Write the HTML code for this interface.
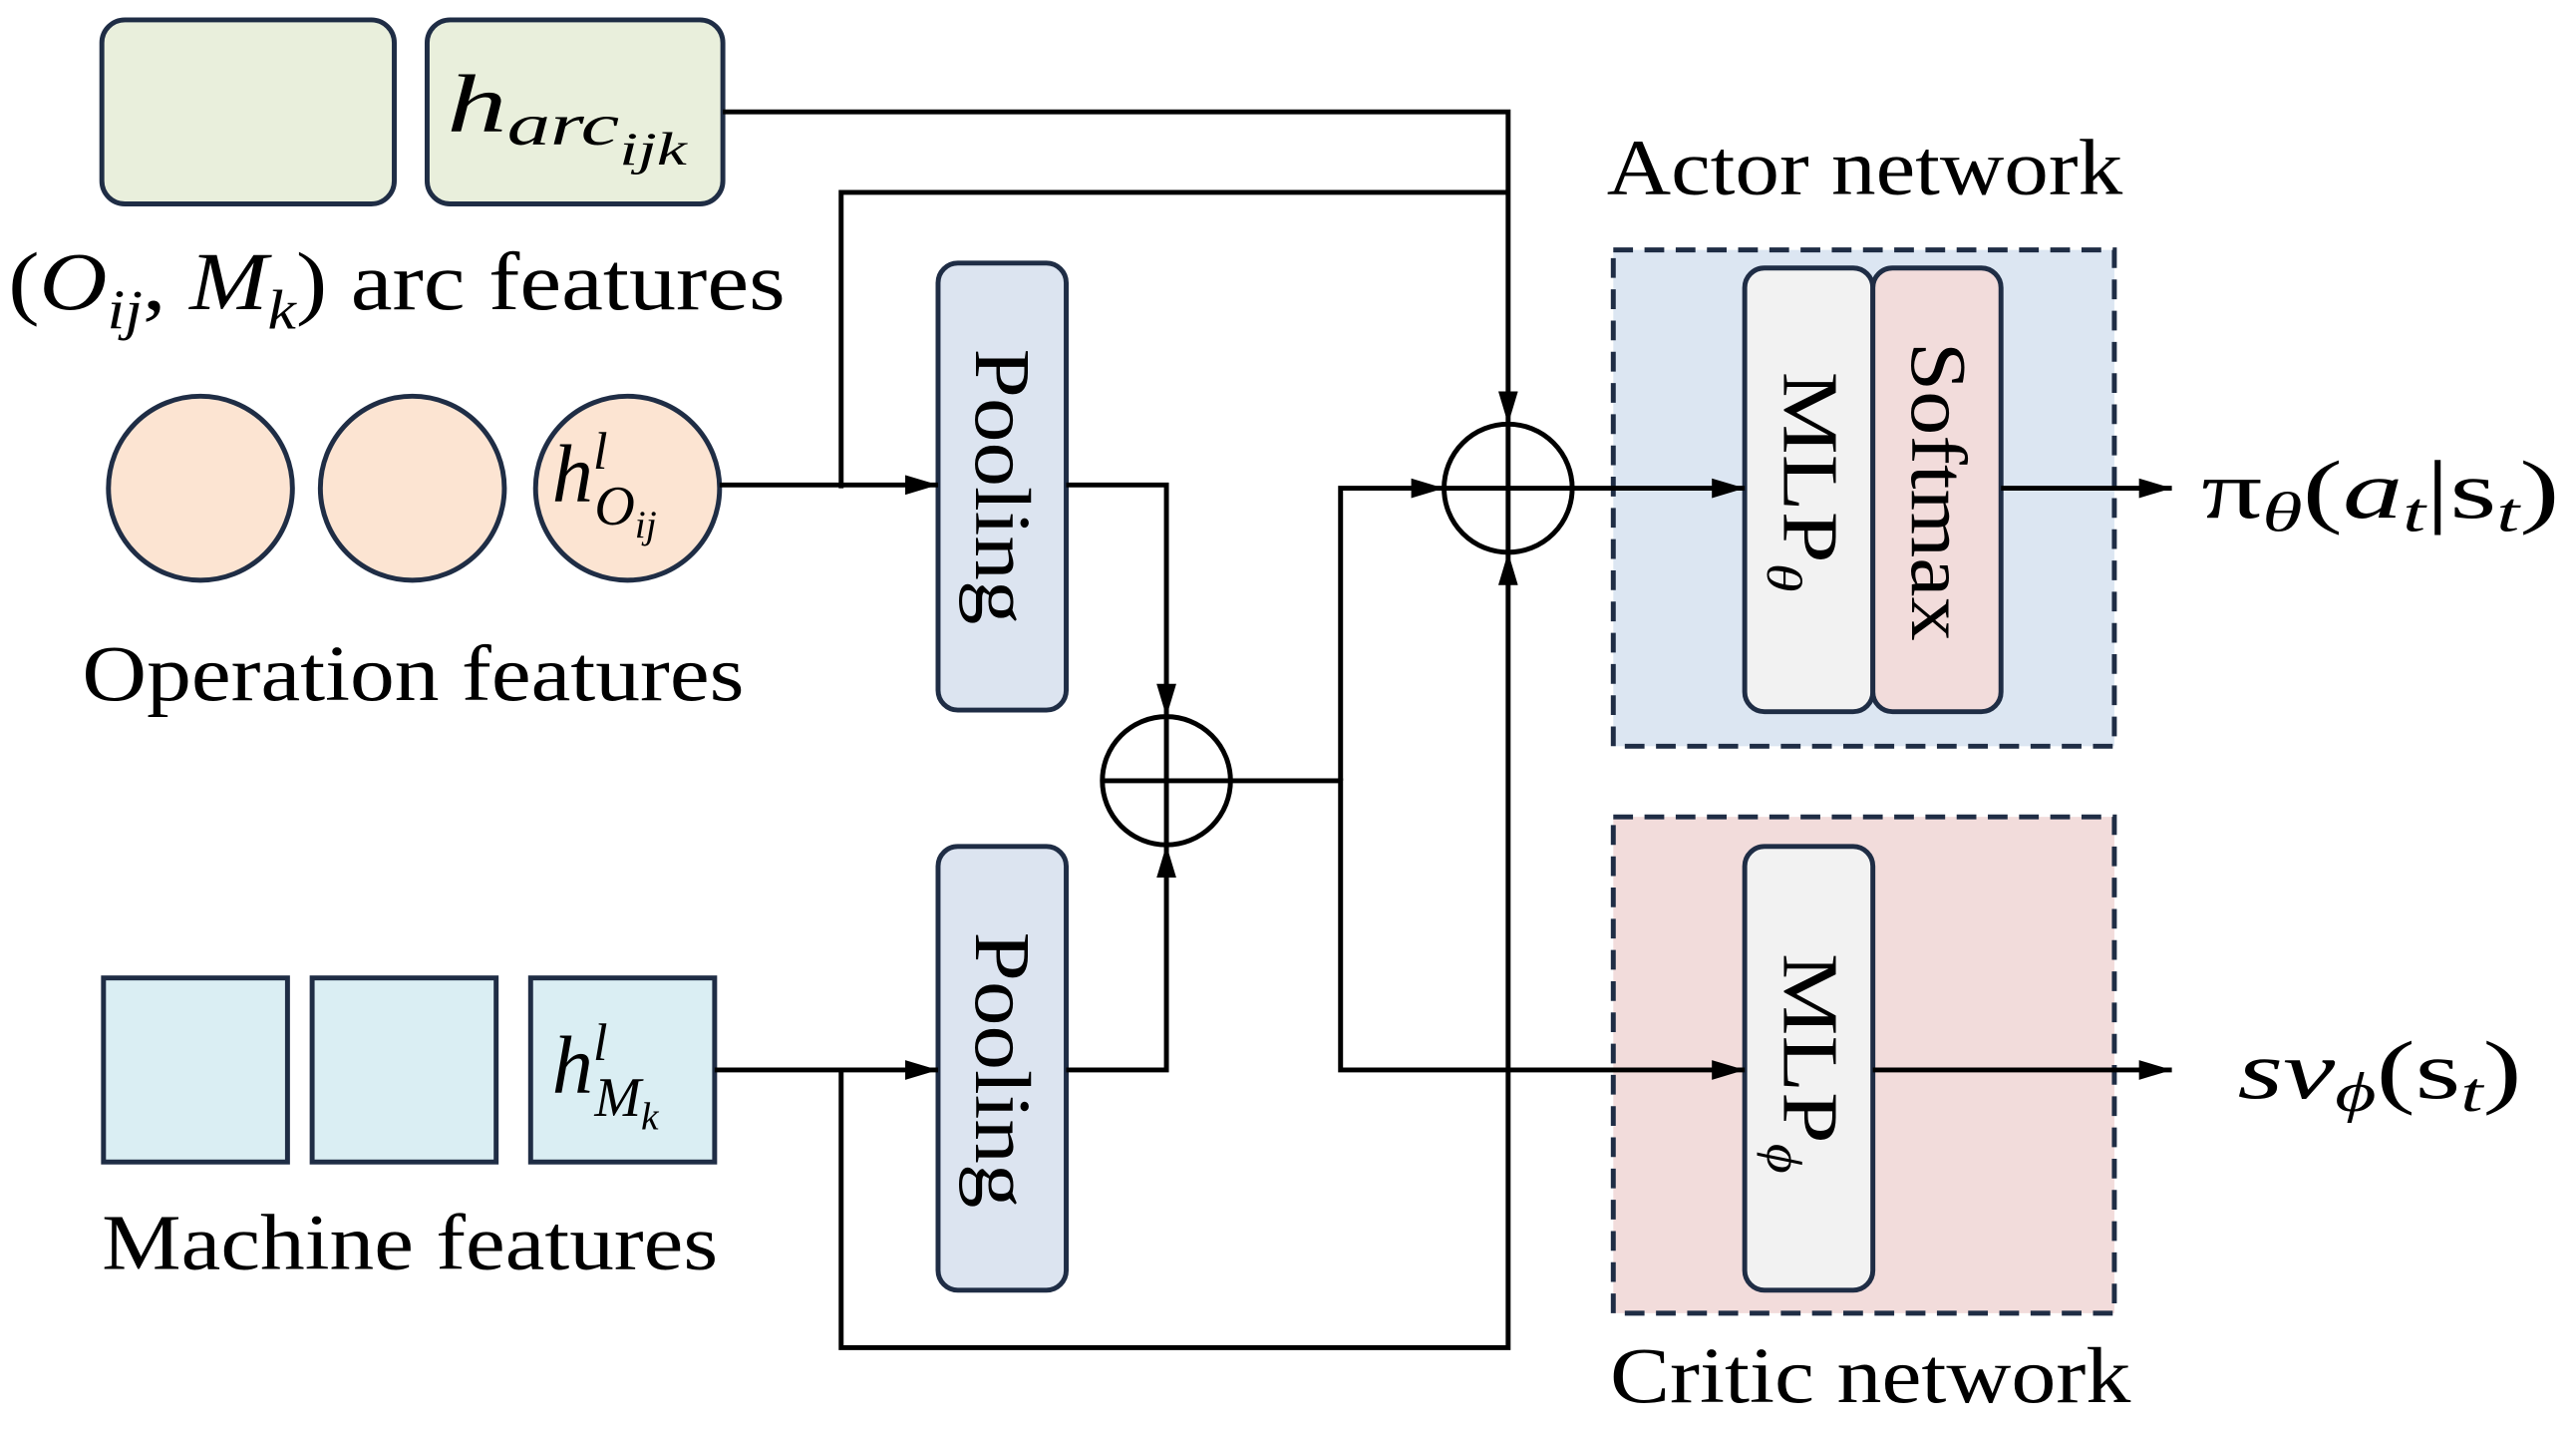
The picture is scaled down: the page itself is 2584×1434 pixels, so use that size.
<!DOCTYPE html>
<html><head><meta charset="utf-8"><style>
html,body{margin:0;padding:0;background:#fff;}
svg{display:block;}
text{font-family:"Liberation Serif",serif;fill:#000;}
</style></head><body>
<svg width="2584" height="1434" viewBox="0 0 1568 870" xmlns="http://www.w3.org/2000/svg">
<defs>
<marker id="b" markerWidth="20" markerHeight="12" refX="20" refY="6" orient="auto" markerUnits="userSpaceOnUse" viewBox="0 0 20 12"><path d="M0,0 L20,6 L0,12 Z" fill="#000"/></marker></defs>
<g stroke="#1f2d45" stroke-width="3">
<rect x="62" y="12" width="178" height="112" rx="14" fill="#e9efdc"/>
<rect x="260" y="12" width="180" height="112" rx="14" fill="#e9efdc"/>
<circle cx="122" cy="297" r="56" fill="#fce4d2"/>
<circle cx="251" cy="297" r="56" fill="#fce4d2"/>
<circle cx="382" cy="297" r="56" fill="#fce4d2"/>
<rect x="63" y="595" width="112" height="112" fill="#daeef3"/>
<rect x="190" y="595" width="112" height="112" fill="#daeef3"/>
<rect x="323" y="595" width="112" height="112" fill="#daeef3"/>
<rect x="571" y="160" width="78" height="272" rx="12" fill="#dce4f0"/>
<rect x="571" y="515" width="78" height="270" rx="12" fill="#dce4f0"/>
<rect x="982" y="152" width="305" height="302" fill="#dce6f2" stroke-dasharray="12,7"/>
<rect x="982" y="497" width="305" height="302" fill="#f2dcdb" stroke-dasharray="12,7"/>
<rect x="1062" y="163" width="78" height="270" rx="12" fill="#f2f2f2"/>
<rect x="1140" y="163" width="78" height="270" rx="12" fill="#f2dcdb"/>
<rect x="1062" y="515" width="78" height="270" rx="12" fill="#f2f2f2"/>
</g>
<g stroke="#000" stroke-width="3" fill="none">
<path d="M440,68 H918 V258" marker-end="url(#b)"/>
<path d="M512,297 V117 H918"/>
<path d="M438,295 H571" marker-end="url(#b)"/>
<path d="M649,295 H710 V436" marker-end="url(#b)"/>
<path d="M435,651 H571" marker-end="url(#b)"/>
<path d="M512,651 V820 H918 V336" marker-end="url(#b)"/>
<path d="M649,651 H710 V514" marker-end="url(#b)"/>
<path d="M749,475 H816 V651 H1062" marker-end="url(#b)"/>
<path d="M816,475 V297 H879" marker-end="url(#b)"/>
<path d="M957,297 H1062" marker-end="url(#b)"/>
<path d="M1218,297 H1322" marker-end="url(#b)"/>
<path d="M1140,651 H1322" marker-end="url(#b)"/>
<circle cx="710" cy="475" r="39"/><path d="M671,475 H749 M710,436 V514"/>
<circle cx="918" cy="297" r="39"/><path d="M879,297 H957 M918,258 V336"/>
</g>
<g font-size="48">
<text x="272" y="80" font-style="italic" font-size="50" textLength="146" lengthAdjust="spacingAndGlyphs">h<tspan font-size="36" dy="8">arc</tspan><tspan font-size="28" dy="12">ijk</tspan></text>
<text x="5" y="188" font-size="50" textLength="473" lengthAdjust="spacingAndGlyphs">(<tspan font-style="italic">O</tspan><tspan font-size="34" dy="12" font-style="italic">ij</tspan><tspan dy="-12">, </tspan><tspan font-style="italic">M</tspan><tspan font-size="34" dy="12" font-style="italic">k</tspan><tspan dy="-12">) arc features</tspan></text>
<text x="336" y="305" font-style="italic" font-size="50">h<tspan font-size="32" dy="-20">l</tspan><tspan font-size="34" dx="-8" dy="34">O</tspan><tspan font-size="24" dy="8">ij</tspan></text>
<text x="50" y="426" textLength="403" lengthAdjust="spacingAndGlyphs">Operation features</text>
<text x="336" y="665" font-style="italic" font-size="50">h<tspan font-size="32" dy="-20">l</tspan><tspan font-size="34" dx="-8" dy="34">M</tspan><tspan font-size="24" dy="8">k</tspan></text>
<text x="62" y="772" textLength="375" lengthAdjust="spacingAndGlyphs">Machine features</text>
<text x="978" y="118" textLength="314" lengthAdjust="spacingAndGlyphs">Actor network</text>
<text x="980" y="853" textLength="317" lengthAdjust="spacingAndGlyphs">Critic network</text>
<text x="1340" y="315" font-size="50" textLength="218" lengthAdjust="spacingAndGlyphs">π<tspan font-size="34" dy="8" font-style="italic">θ</tspan><tspan dy="-8">(</tspan><tspan font-style="italic">a</tspan><tspan font-size="34" dy="8" font-style="italic">t</tspan><tspan dy="-8">|s</tspan><tspan font-size="34" dy="8" font-style="italic">t</tspan><tspan dy="-8">)</tspan></text>
<text x="1362" y="668" font-size="50" textLength="173" lengthAdjust="spacingAndGlyphs"><tspan font-style="italic">sv</tspan><tspan font-size="34" dy="8" font-style="italic">ϕ</tspan><tspan dy="-8">(s</tspan><tspan font-size="34" dy="8" font-style="italic">t</tspan><tspan dy="-8">)</tspan></text>
<text transform="translate(594,212) rotate(90)" textLength="168" lengthAdjust="spacingAndGlyphs">Pooling</text>
<text transform="translate(594,567) rotate(90)" textLength="168" lengthAdjust="spacingAndGlyphs">Pooling</text>
<text transform="translate(1086,226) rotate(90)" textLength="134" lengthAdjust="spacingAndGlyphs">MLP<tspan font-size="30" dy="10" font-style="italic">θ</tspan></text>
<text transform="translate(1164,208) rotate(90)" textLength="182" lengthAdjust="spacingAndGlyphs">Softmax</text>
<text transform="translate(1086,580) rotate(90)" textLength="134" lengthAdjust="spacingAndGlyphs">MLP<tspan font-size="30" dy="10" font-style="italic">ϕ</tspan></text>
</g>
</svg>
</body></html>
